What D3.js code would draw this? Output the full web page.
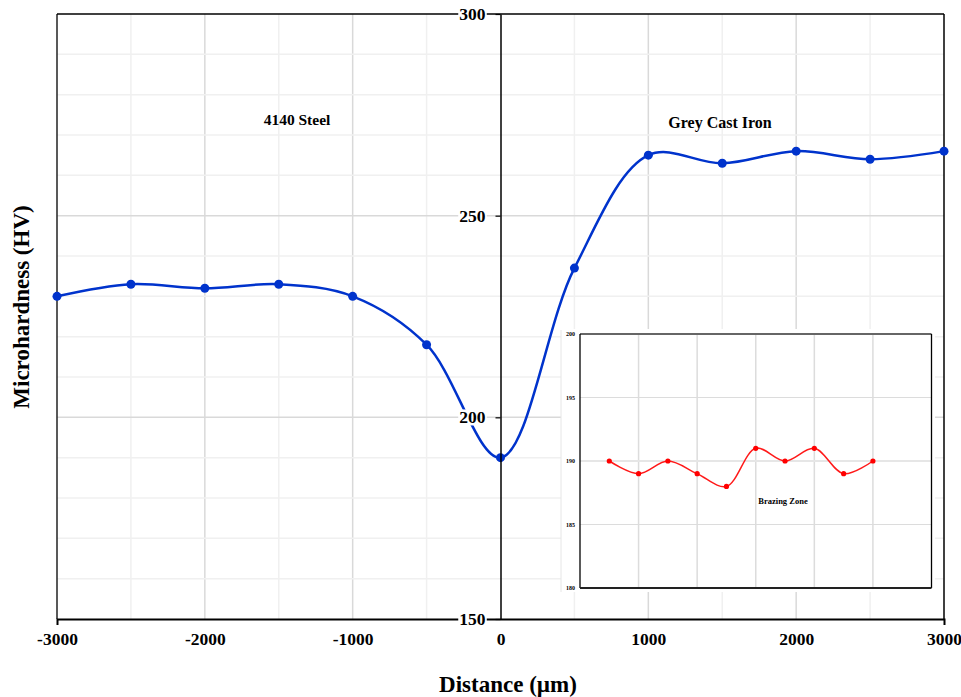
<!DOCTYPE html>
<html><head><meta charset="utf-8">
<script src="https://cdn.jsdelivr.net/npm/d3@7/dist/d3.min.js"></script>
<style>
body{margin:0;background:#fff;}
text{font-family:"Liberation Serif","Times New Roman",serif;font-weight:bold;fill:#000;}
</style></head>
<body><svg id="c" width="961" height="697"></svg>
<script>
// ---- data ----
const distance = [-3000,-2500,-2000,-1500,-1000,-500,0,500,1000,1500,2000,2500,3000];
const hardness = [230,233,232,233,230,218,190,237,265,263,266,264,266];
const xTicks = [-3000,-2000,-1000,0,1000,2000,3000];
const yTicks = [150,200,250,300];
const insetPos = [1,2,3,4,5,6,7,8,9,10];
const insetHardness = [190,189,190,189,188,191,190,191,189,190];
const insetYTicks = [180,185,190,195,200];
const labels = {steel:"4140 Steel", iron:"Grey Cast Iron", zone:"Brazing Zone", xTitle:"Distance (µm)", yTitle:"Microhardness (HV)"};

const svg = d3.select("#c");
const L=57,R=944,T=14,B=619;
const x = d3.scaleLinear().domain([-3000,3000]).range([L,R]);
const y = d3.scaleLinear().domain([150,300]).range([B,T]);

// grid
const g = svg.append("g");
d3.range(-2500,3000,500).forEach(v=>{
  const major = v%1000===0;
  if(v===0) return;
  g.append("line").attr("x1",x(v)).attr("x2",x(v)).attr("y1",T).attr("y2",B)
   .attr("stroke",major?"#d9d9d9":"#f0f0f0").attr("stroke-width",1.5);
});
d3.range(160,300,10).forEach(v=>{
  const major = v%50===0;
  g.append("line").attr("x1",L).attr("x2",R).attr("y1",y(v)).attr("y2",y(v))
   .attr("stroke",major?"#d9d9d9":"#f0f0f0").attr("stroke-width",1.5);
});

// frame
svg.append("line").attr("x1",L).attr("x2",L).attr("y1",T).attr("y2",B).attr("stroke","#222").attr("stroke-width",1.5);
svg.append("line").attr("x1",L).attr("x2",R).attr("y1",T).attr("y2",T).attr("stroke","#000").attr("stroke-width",1.5);
svg.append("line").attr("x1",R).attr("x2",R).attr("y1",T).attr("y2",B).attr("stroke","#000").attr("stroke-width",1.5);

// inset panel background
const inset = svg.append("g");
inset.append("rect").attr("x",561).attr("y",329).attr("width",374).attr("height",263).attr("fill","#fff");
inset.append("line").attr("x1",561).attr("x2",561).attr("y1",330).attr("y2",592).attr("stroke","#e6e6e6").attr("stroke-width",1);

const xi = d3.scaleLinear().domain([0,12]).range([580,931.5]);
const yi = d3.scaleLinear().domain([180,200]).range([588,334]);
[2,4,6,8,10].forEach(v=>{
  inset.append("line").attr("x1",xi(v)).attr("x2",xi(v)).attr("y1",yi(200)).attr("y2",yi(180))
   .attr("stroke","#dcdcdc").attr("stroke-width",1.5);
});
[185,190,195].forEach(v=>{
  inset.append("line").attr("x1",xi(0)).attr("x2",xi(12)).attr("y1",yi(v)).attr("y2",yi(v))
   .attr("stroke",v===190?"#e6e6e6":"#dcdcdc").attr("stroke-width",v===190?2:1.2);
});
inset.append("line").attr("x1",xi(0)).attr("x2",xi(12)).attr("y1",yi(200)).attr("y2",yi(200)).attr("stroke","#666").attr("stroke-width",2);
inset.append("line").attr("x1",xi(0)).attr("x2",xi(0)).attr("y1",yi(200)).attr("y2",yi(180)).attr("stroke","#000").attr("stroke-width",1.3);
inset.append("line").attr("x1",xi(12)).attr("x2",xi(12)).attr("y1",yi(200)).attr("y2",yi(180)).attr("stroke","#000").attr("stroke-width",1.3);
inset.append("line").attr("x1",xi(0)).attr("x2",xi(12)).attr("y1",yi(180)).attr("y2",yi(180)).attr("stroke","#222").attr("stroke-width",2);
insetYTicks.forEach(v=>{
  inset.append("text").attr("x",575).attr("y",yi(v)).attr("dy","0.35em").attr("text-anchor","end")
   .attr("font-size",6).text(v);
});
const insetData = insetPos.map((p,i)=>[p,insetHardness[i]]);
inset.append("path").datum(insetData)
  .attr("d",d3.line().x(d=>xi(d[0])).y(d=>yi(d[1])).curve(d3.curveCatmullRom.alpha(0.5)))
  .attr("fill","none").attr("stroke","#ff1a1a").attr("stroke-width",1.5);
inset.selectAll("circle").data(insetData).join("circle")
  .attr("cx",d=>xi(d[0])).attr("cy",d=>yi(d[1])).attr("r",2.6).attr("fill","#ff0000");
inset.append("text").attr("x",783).attr("y",504).attr("text-anchor","middle").attr("font-size",8.5).attr("fill","#222").text(labels.zone);

// x axis
const xAxis = svg.append("g").attr("transform",`translate(0,${B})`)
  .call(d3.axisBottom(x).tickValues(xTicks).tickSizeInner(0).tickSizeOuter(6).tickPadding(14).tickFormat(d=>String(d)));
xAxis.select(".domain").attr("stroke","#000").attr("stroke-width",2);
xAxis.selectAll("text").attr("font-size",17.5).attr("font-family",null);

// main curve
const mainData = distance.map((d,i)=>[d,hardness[i]]);
svg.append("path").datum(mainData)
  .attr("d",d3.line().x(d=>x(d[0])).y(d=>y(d[1])).curve(d3.curveCatmullRom.alpha(0.5)))
  .attr("fill","none").attr("stroke","#0033cc").attr("stroke-width",2.5);
svg.append("g").selectAll("circle").data(mainData).join("circle")
  .attr("cx",d=>x(d[0])).attr("cy",d=>y(d[1])).attr("r",4.5).attr("fill","#0033cc");

// y axis at x=0
const yAxis = svg.append("g").attr("transform",`translate(${x(0)},0)`)
  .call(d3.axisLeft(y).tickValues(yTicks).tickSizeInner(5).tickSizeOuter(0).tickPadding(10).tickFormat(d=>String(d)));
yAxis.select(".domain").attr("stroke","#000").attr("stroke-width",1.5);
yAxis.selectAll(".tick line").attr("stroke","#000").attr("stroke-width",1.2);
yAxis.selectAll(".tick text").attr("font-size",17.5).attr("font-family",null);
yAxis.selectAll(".tick").each(function(){
  const t = d3.select(this).select("text");
  const bb = t.node().getBBox();
  d3.select(this).insert("rect","text").attr("x",bb.x-1).attr("y",bb.y+2).attr("width",bb.width+2).attr("height",bb.height-4).attr("fill","#fff");
});

// annotations
svg.append("text").attr("x",297).attr("y",125).attr("text-anchor","middle").attr("font-size",15.5).text(labels.steel);
svg.append("text").attr("x",720).attr("y",128).attr("text-anchor","middle").attr("font-size",16).text(labels.iron);

// titles
svg.append("text").attr("x",508).attr("y",692).attr("text-anchor","middle").attr("font-size",23).text(labels.xTitle);
svg.append("text").attr("transform","translate(29,307) rotate(-90)").attr("text-anchor","middle").attr("font-size",23).text(labels.yTitle);
</script></body></html>
